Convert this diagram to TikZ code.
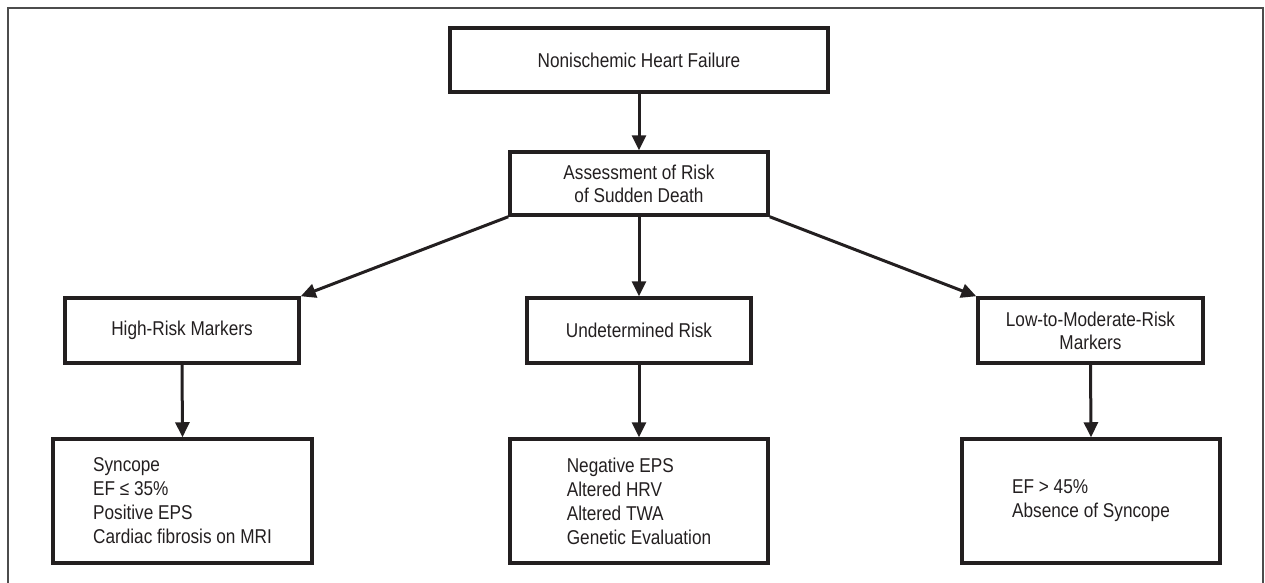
\documentclass[tikz,border=0pt]{standalone}
\usepackage{fontspec}
\setmainfont[FakeStretch=0.86]{Liberation Sans}
\usetikzlibrary{arrows.meta}
\definecolor{ink}{HTML}{231F20}

\begin{document}
\begin{tikzpicture}[x=1pt, y=-1pt,
        box/.style={draw=ink, line width=3.5pt, text=ink, align=center, inner sep=0pt,
            font=\fontsize{20}{23}\selectfont},
        listbox/.style={box, align=left, minimum width=258pt, minimum height=124pt,
            font=\fontsize{20}{24}\selectfont},
        arr/.style={draw=ink, line width=3pt, -{Triangle[length=15pt, width=14pt]}}]
        \useasboundingbox (0,0) rectangle (1265,583);
        \draw[gray!60!black, line width=1.5pt] (8,583) -- (8,8) -- (1263,8) -- (1263,583);
        % top of the tree
        \node[box, minimum width=378pt, minimum height=64pt] (nhf) at (639,60) {Nonischemic Heart Failure};
        \node[box, minimum width=258pt, minimum height=63pt] (risk) at (639,183.5) {Assessment of Risk\\of Sudden Death};
        % risk groups
        \node[box, minimum width=234pt, minimum height=65pt] (high) at (182,330.5) {High-Risk Markers};
        \node[box, minimum width=224pt, minimum height=65pt] (undet) at (639,330.5) {Undetermined Risk};
        \node[box, minimum width=225pt, minimum height=65pt] (lowmod) at (1090.5,330.5) {Low-to-Moderate-Risk\\Markers};
        % markers
        \node[listbox, minimum width=259pt] (highlist) at (182.5,501) {Syncope\\EF ≤ 35\%\\Positive EPS\\Cardiac fibrosis on MRI};
        \node[listbox] (undetlist) at (639,501) {Negative EPS\\Altered HRV\\Altered TWA\\Genetic Evaluation};
        \node[listbox] (lowlist) at (1091,501) {EF > 45\%\\Absence of Syncope};
        \draw[arr] (nhf.south) -- (risk.north);
        \draw[arr] (risk.south west) -- (high.north east);
        \draw[arr] (risk.south) -- (undet.north);
        \draw[arr] (risk.south east) -- (lowmod.north west);
        \draw[arr] (high.south) -- (highlist.north);
        \draw[arr] (undet.south) -- (undetlist.north);
        \draw[arr] (lowmod.south) -- (lowlist.north);
    \end{tikzpicture}
\end{document}
